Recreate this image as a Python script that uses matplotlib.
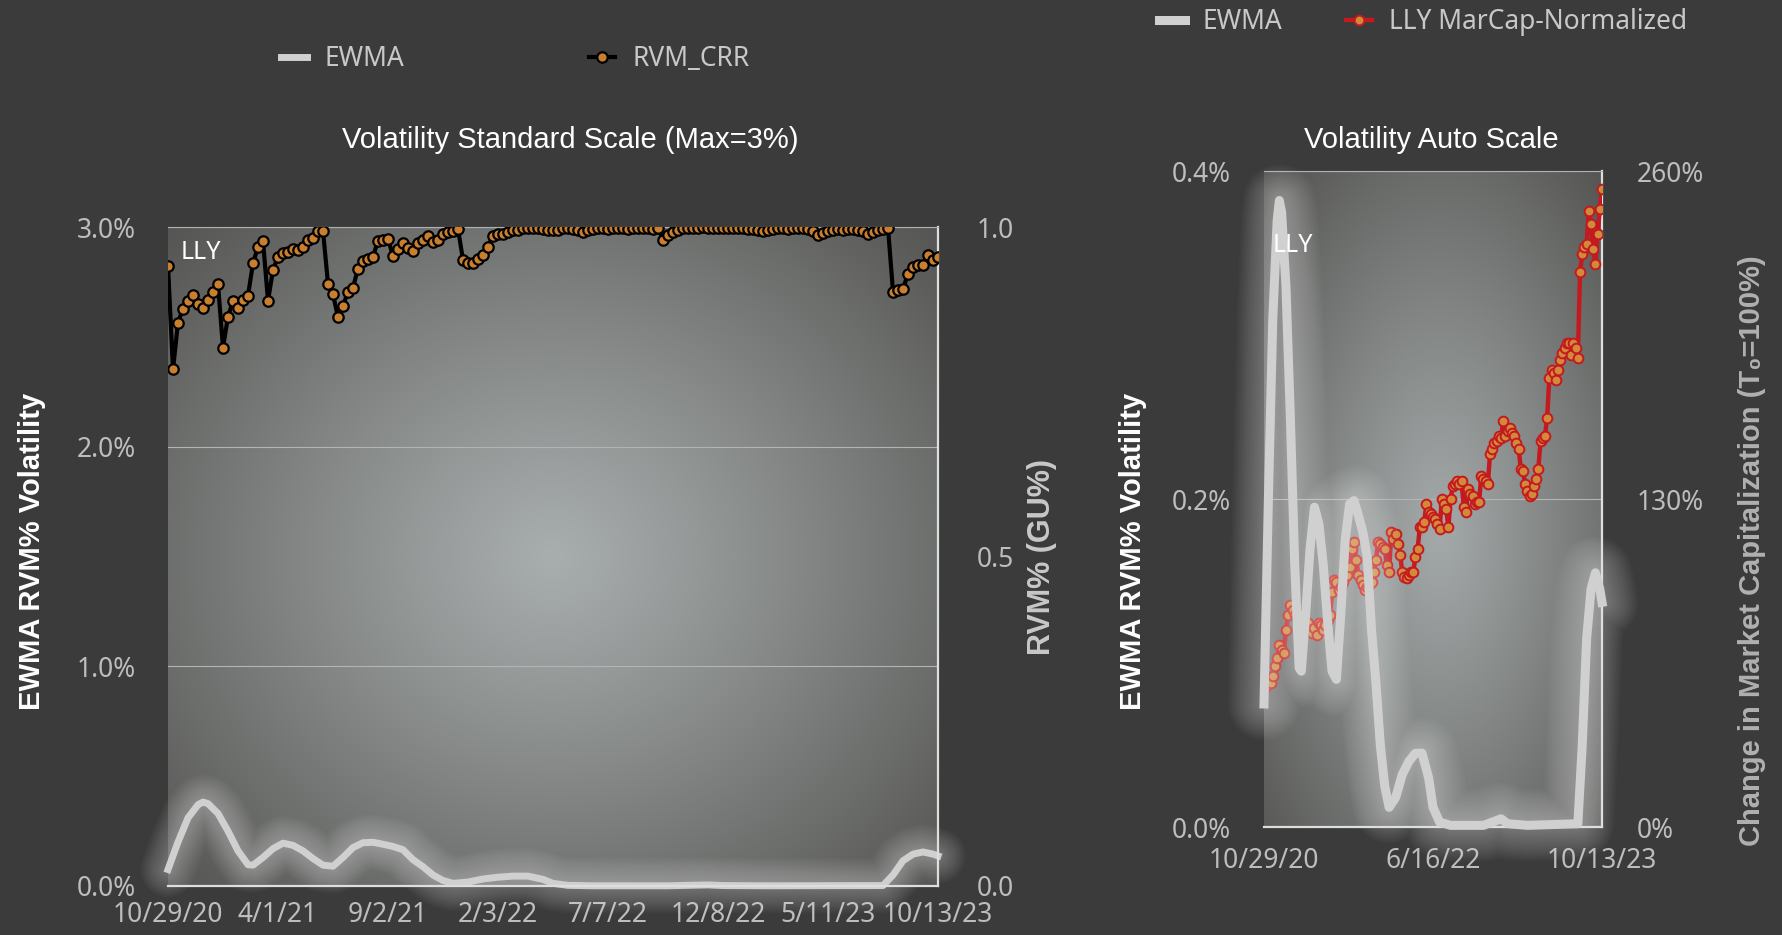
import numpy as np
import matplotlib
matplotlib.use("Agg")
import matplotlib.pyplot as plt

plt.rcParams["font.family"] = ["Noto Sans", "DejaVu Sans"]

# ---- data (weekly points, index 0 = 10/29/20, index 154 = 10/13/23) ----
x_labels_left = ["10/29/20", "4/1/21", "9/2/21", "2/3/22", "7/7/22", "12/8/22", "5/11/23", "10/13/23"]
x_labels_right = ["10/29/20", "6/16/22", "10/13/23"]

# RVM_CRR (right axis of left chart, 0..1)
rvm_crr = [
    0.941, 0.784, 0.855, 0.876, 0.888, 0.897, 0.883, 0.877, 0.889, 0.901,
    0.913, 0.817, 0.864, 0.888, 0.877, 0.889, 0.896, 0.945, 0.970, 0.979,
    0.888, 0.935, 0.955, 0.961, 0.962, 0.967, 0.965, 0.970, 0.980, 0.984,
    0.994, 0.994, 0.914, 0.898, 0.863, 0.880, 0.902, 0.908, 0.937, 0.949,
    0.951, 0.955, 0.979, 0.980, 0.982, 0.956, 0.967, 0.975, 0.968, 0.963,
    0.975, 0.980, 0.986, 0.977, 0.980, 0.989, 0.992, 0.994, 0.997, 0.950,
    0.945, 0.946, 0.951, 0.958, 0.970, 0.987, 0.989, 0.990, 0.992, 0.995,
    0.996, 0.998, 0.999, 0.999, 0.998, 0.997, 0.996, 0.995, 0.996, 0.998,
    0.998, 0.997, 0.995, 0.992, 0.995, 0.997, 0.998, 0.998, 0.997, 0.998,
    0.999, 0.998, 0.997, 0.998, 0.998, 0.999, 0.998, 0.997, 0.998, 0.981,
    0.988, 0.993, 0.996, 0.998, 0.999, 0.999, 0.999, 1.000, 0.999, 0.999,
    0.999, 0.998, 0.999, 0.999, 0.998, 0.998, 0.997, 0.997, 0.996, 0.994,
    0.995, 0.997, 0.998, 0.998, 0.997, 0.998, 0.998, 0.998, 0.997, 0.994,
    0.988, 0.991, 0.994, 0.996, 0.997, 0.996, 0.997, 0.997, 0.996, 0.994,
    0.990, 0.993, 0.996, 0.997, 0.999, 0.902, 0.905, 0.906, 0.929, 0.940,
    0.942, 0.942, 0.958, 0.950, 0.954,
]

# LLY market cap normalized (%), right axis of right chart
lly_marcap = [
    55, 56, 58, 57, 60, 64, 67, 72, 70, 69,
    78, 84, 88, 86, 84, 83, 85, 82, 80, 79,
    81, 78, 77, 79, 76, 81, 80, 78, 80, 82,
    84, 93, 98, 97, 94, 95, 97, 99, 100, 103,
    110, 113, 106, 100, 98, 96, 94, 95, 96, 97,
    101, 106, 113, 112, 111, 110, 104, 101, 117, 114,
    116, 112, 108, 101, 99, 98.5, 100, 101, 101, 107,
    110, 119, 119, 121, 128, 125, 124, 123, 122, 120,
    118, 130, 128, 126, 119, 130, 135, 136, 137, 136,
    137, 127, 125, 134, 132, 131, 128, 129, 129, 139,
    138, 137, 136, 148, 150, 152, 153, 155, 154, 161,
    155, 157, 158, 156, 155, 152, 150, 142, 141, 136,
    133, 131, 132, 135, 138, 142, 153, 154, 155, 162,
    178, 181, 180, 177, 181, 185, 188, 190, 192, 192,
    187, 192, 190, 186, 220, 227, 230, 231, 244, 239,
    229, 223, 235, 245, 253,
]

# EWMA RVM% volatility (%), read at these week indices
ewma_idx = [0, 2, 4, 6, 7, 8, 10, 12, 14, 16, 17, 19, 21, 23, 25, 27, 29, 31, 33,
            35, 37, 39, 41, 43, 45, 47, 49, 51, 53, 55, 57, 60, 63, 66, 69, 72,
            75, 77, 80, 85, 100, 104, 108, 111, 120, 143, 145, 147, 149, 151, 153, 154]
ewma_val = [0.075, 0.20, 0.31, 0.37, 0.382, 0.375, 0.33, 0.25, 0.16, 0.097, 0.095,
            0.13, 0.17, 0.195, 0.185, 0.16, 0.125, 0.095, 0.09, 0.13, 0.175, 0.197,
            0.199, 0.19, 0.18, 0.165, 0.12, 0.088, 0.05, 0.025, 0.012, 0.018, 0.032,
            0.040, 0.045, 0.045, 0.03, 0.012, 0.003, 0.001, 0.001, 0.003, 0.005,
            0.002, 0.001, 0.002, 0.05, 0.115, 0.145, 0.155, 0.145, 0.137]

weeks = np.arange(len(rvm_crr))
n_last = len(rvm_crr) - 1

BG = "#3b3b3b"
TICK_C = "#bdbdbd"
EWMA_C = "#d0d0d0"
W, H = 1782, 935


def fig_xy(px, py):
    return px / W, 1 - py / H


def gradient(ax, cx, cy, rx, ry, c_in, c_out):
    yy, xx = np.mgrid[0:1:300j, 0:1:300j]
    r = np.sqrt(((xx - cx) / rx) ** 2 + ((yy - cy) / ry) ** 2)
    t = np.clip(r, 0, 1)[..., None] ** 1.1
    img = np.array(c_in) * (1 - t) + np.array(c_out) * t
    ax.imshow(img, extent=[0, 1, 0, 1], transform=ax.transAxes, origin="lower",
              aspect="auto", zorder=0, interpolation="bilinear")


def glow_line(ax, xs, ys, lw, widths, alpha):
    # soft white halo: many wide, faint strokes under the line
    for w in widths:
        ax.plot(xs, ys, color="white", lw=w, alpha=alpha, solid_capstyle="round",
                solid_joinstyle="round", zorder=4, clip_on=False)
    line, = ax.plot(xs, ys, color=EWMA_C, lw=lw, zorder=5, clip_on=False, label="EWMA")
    return line


def frame(ax_a, ax_b):
    for a in (ax_a, ax_b):
        for s in a.spines.values():
            s.set_visible(False)
        a.tick_params(length=0, labelsize=19, labelcolor=TICK_C)
    for side in ("right", "bottom"):
        ax_b.spines[side].set_visible(True)
        ax_b.spines[side].set_color("#dedede")
        ax_b.spines[side].set_linewidth(1.6)
    ax_b.spines["top"].set_visible(True)
    ax_b.spines["top"].set_color("#b0b0b0")
    ax_b.spines["top"].set_linewidth(0.8)


fig = plt.figure(figsize=(W / 100, H / 100), dpi=100, facecolor=BG)

# ---------------- left chart ----------------
ax = fig.add_axes([168 / W, (H - 886) / H, 770 / W, 659 / H])
ax2 = ax.twinx()
gradient(ax, 0.5, 0.5, 0.75, 0.8, (0.66, 0.68, 0.68), (0.30, 0.30, 0.29))
ewma_left = glow_line(ax, ewma_idx, ewma_val, 5.0, np.linspace(8, 40, 14), 0.022)
rvm_line, = ax2.plot(weeks, rvm_crr, color="black", lw=3.0, marker="o", markersize=7.5,
                     markerfacecolor="#c97f2e", markeredgecolor="black",
                     markeredgewidth=1.6, zorder=5, label="RVM_CRR")
ax.set_xlim(0, n_last)
ax.set_ylim(0, 3)
ax2.set_ylim(0, 1.0)
ax.set_yticks([0, 1, 2, 3], ["0.0%", "1.0%", "2.0%", "3.0%"])
ax2.set_yticks([0, 0.5, 1.0], ["0.0", "0.5", "1.0"])
ax.set_xticks(weeks[::22], x_labels_left)
ax.yaxis.grid(True, color="#b4b4b4", lw=0.8)
frame(ax, ax2)
ax.tick_params(axis="y", pad=23)
ax2.tick_params(axis="y", pad=28)
ax.tick_params(axis="x", pad=10.5)
ax.text(0.043, 0.962, "LLY", transform=ax.transAxes, ha="center", va="center",
        color="white", fontsize=18, zorder=6)

# ---------------- right chart ----------------
axr = fig.add_axes([1264 / W, (H - 827) / H, 338 / W, 656 / H])
axr2 = axr.twinx()
axr.set_zorder(axr2.get_zorder() + 1)
axr.patch.set_visible(False)
gradient(axr2, 0.52, 0.45, 0.8, 0.8, (0.64, 0.66, 0.66), (0.30, 0.30, 0.29))
mar_line, = axr2.plot(weeks, lly_marcap, color="#c41a1f", lw=3.2, marker="o", markersize=7,
                      markerfacecolor="#d28a3a", markeredgecolor="#c41a1f",
                      markeredgewidth=1.4, zorder=3, label="LLY MarCap-Normalized")
ewma_right = glow_line(axr, ewma_idx, ewma_val, 6.5, np.linspace(10, 52, 16), 0.025)
axr.set_xlim(0, n_last)
axr.set_ylim(0, 0.4)
axr2.set_ylim(0, 260)
axr.set_yticks([0, 0.2, 0.4], ["0.0%", "0.2%", "0.4%"])
axr2.set_yticks([0, 130, 260], ["0%", "130%", "260%"])
axr.set_xticks([0, n_last // 2, n_last], x_labels_right)
axr2.yaxis.grid(True, color="#b4b4b4", lw=0.8)
frame(axr, axr2)
axr.tick_params(axis="y", pad=24)
axr2.tick_params(axis="y", pad=25)
axr.tick_params(axis="x", pad=14.5)
axr.text(0.086, 0.887, "LLY", transform=axr.transAxes, ha="center", va="center",
         color="white", fontsize=18, zorder=6)

# ---------------- titles, labels, legends ----------------
title_font = ["Liberation Sans", "DejaVu Sans"]
label_font = ["Liberation Sans Narrow", "Liberation Sans", "DejaVu Sans"]
fig.text(*fig_xy(570, 140), "Volatility Standard Scale (Max=3%)", ha="center", va="center",
         color="white", fontsize=21, family=title_font)
fig.text(*fig_xy(1431, 140), "Volatility Auto Scale", ha="center", va="center",
         color="white", fontsize=21, family=title_font)

fig.text(*fig_xy(32, 551), "EWMA RVM% Volatility", rotation=90, ha="center", va="center",
         color="white", fontsize=21, fontweight="bold", family=label_font)
fig.text(*fig_xy(1042, 557), "RVM% (GU%)", rotation=90, ha="center", va="center",
         color="#c8c8c8", fontsize=22, fontweight="bold", family=label_font)
fig.text(*fig_xy(1133, 551), "EWMA RVM% Volatility", rotation=90, ha="center", va="center",
         color="white", fontsize=21, fontweight="bold", family=label_font)
fig.text(*fig_xy(1752, 551), "Change in Market Capitalization (T\u2080=100%)", rotation=90,
         ha="center", va="center", color="#b0b0b0", fontsize=21, fontweight="bold",
         family=label_font)

fig.legend(handles=[ewma_left, rvm_line], loc="center left", bbox_to_anchor=fig_xy(281, 59),
           ncol=2, frameon=False, fontsize=19, handlelength=1.0, handletextpad=0.65,
           columnspacing=7.0, borderpad=0, borderaxespad=0, labelcolor="#c8c8c8")
fig.legend(handles=[ewma_right, mar_line], loc="center left", bbox_to_anchor=fig_xy(1159, 22),
           ncol=2, frameon=False, fontsize=19, handlelength=1.0, handletextpad=0.65,
           columnspacing=2.4, borderpad=0, borderaxespad=0, labelcolor="#c8c8c8")

fig.savefig("out.png", dpi=100, facecolor=BG)
